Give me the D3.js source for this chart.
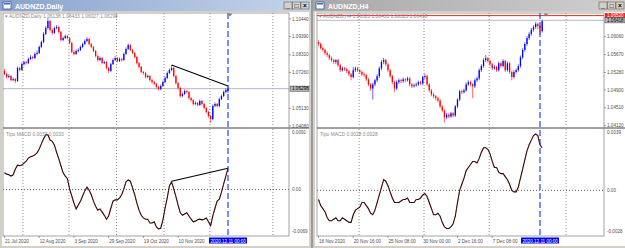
<!DOCTYPE html>
<html><head><meta charset="utf-8">
<script src="https://cdn.jsdelivr.net/npm/d3@7"></script>
<style>html,body{margin:0;padding:0;background:#9a9a9a;overflow:hidden}svg{display:block}</style>
</head><body>
<svg id="c" width="625" height="248"></svg>
<script>
// ---------------- DATA ----------------
const dailyOHLC = [
[1.0735,1.0748,1.0710,1.0717],[1.0717,1.0725,1.0690,1.0699],[1.0699,1.0716,1.0692,1.0705],[1.0705,1.0712,1.0672,1.0681],
[1.0681,1.0696,1.0674,1.0687],[1.0687,1.0694,1.0664,1.0675],[1.0675,1.0762,1.0670,1.0753],[1.0753,1.0760,1.0733,1.0741],
[1.0741,1.0785,1.0736,1.0776],[1.0776,1.0797,1.0768,1.0788],[1.0788,1.0795,1.0773,1.0782],[1.0782,1.0815,1.0777,1.0806],
[1.0806,1.0829,1.0800,1.0818],[1.0818,1.0826,1.0803,1.0812],[1.0812,1.0845,1.0806,1.0836],[1.0836,1.0856,1.0828,1.0842],
[1.0842,1.0887,1.0836,1.0878],[1.0878,1.0916,1.0870,1.0907],[1.0907,1.0966,1.0900,1.0955],[1.0955,1.1002,1.0948,1.0990],
[1.0990,1.1050,1.0982,1.1032],[1.1032,1.1040,1.0970,1.0979],[1.0979,1.0988,1.0950,1.0961],[1.0961,1.0999,1.0955,1.0990],
[1.0990,1.1008,1.0982,1.0996],[1.0996,1.1004,1.0958,1.0967],[1.0967,1.0974,1.0910,1.0919],[1.0919,1.0940,1.0912,1.0931],
[1.0931,1.0952,1.0925,1.0943],[1.0943,1.0950,1.0922,1.0931],[1.0931,1.0937,1.0893,1.0901],[1.0901,1.0908,1.0840,1.0848],
[1.0848,1.0856,1.0827,1.0836],[1.0836,1.0863,1.0830,1.0854],[1.0854,1.0870,1.0846,1.0860],[1.0860,1.0887,1.0853,1.0878],
[1.0878,1.0904,1.0871,1.0895],[1.0895,1.0922,1.0888,1.0913],[1.0913,1.0936,1.0906,1.0925],[1.0925,1.0931,1.0887,1.0895],
[1.0895,1.0902,1.0870,1.0878],[1.0878,1.0884,1.0846,1.0854],[1.0854,1.0860,1.0815,1.0824],[1.0824,1.0831,1.0791,1.0800],
[1.0800,1.0821,1.0794,1.0812],[1.0812,1.0818,1.0774,1.0782],[1.0782,1.0797,1.0776,1.0788],[1.0788,1.0794,1.0745,1.0753],
[1.0753,1.0760,1.0723,1.0735],[1.0735,1.0785,1.0729,1.0776],[1.0776,1.0809,1.0770,1.0800],[1.0800,1.0822,1.0794,1.0812],
[1.0812,1.0818,1.0786,1.0794],[1.0794,1.0815,1.0788,1.0806],[1.0806,1.0812,1.0791,1.0800],[1.0800,1.0845,1.0794,1.0836],
[1.0836,1.0875,1.0830,1.0866],[1.0866,1.0899,1.0860,1.0889],[1.0889,1.0895,1.0852,1.0860],[1.0860,1.0866,1.0834,1.0842],
[1.0842,1.0848,1.0810,1.0818],[1.0818,1.0824,1.0774,1.0782],[1.0782,1.0789,1.0750,1.0759],[1.0759,1.0765,1.0720,1.0729],
[1.0729,1.0736,1.0712,1.0723],[1.0723,1.0730,1.0690,1.0699],[1.0699,1.0714,1.0692,1.0705],[1.0705,1.0711,1.0672,1.0681],
[1.0681,1.0688,1.0660,1.0669],[1.0669,1.0676,1.0650,1.0658],[1.0658,1.0664,1.0630,1.0640],[1.0640,1.0647,1.0618,1.0628],
[1.0628,1.0655,1.0620,1.0646],[1.0646,1.0678,1.0640,1.0669],[1.0669,1.0702,1.0662,1.0693],[1.0693,1.0732,1.0686,1.0723],
[1.0723,1.0750,1.0716,1.0741],[1.0741,1.0770,1.0734,1.0753],[1.0753,1.0760,1.0696,1.0705],[1.0705,1.0712,1.0654,1.0663],
[1.0663,1.0670,1.0625,1.0634],[1.0634,1.0641,1.0576,1.0586],[1.0586,1.0607,1.0580,1.0598],[1.0598,1.0625,1.0592,1.0616],
[1.0616,1.0622,1.0602,1.0610],[1.0610,1.0616,1.0565,1.0574],[1.0574,1.0580,1.0553,1.0562],[1.0562,1.0568,1.0530,1.0539],
[1.0539,1.0554,1.0532,1.0545],[1.0545,1.0551,1.0524,1.0533],[1.0533,1.0566,1.0527,1.0557],[1.0557,1.0563,1.0530,1.0539],
[1.0539,1.0545,1.0506,1.0515],[1.0515,1.0521,1.0482,1.0491],[1.0491,1.0497,1.0458,1.0467],[1.0467,1.0473,1.0426,1.0449],
[1.0449,1.0536,1.0443,1.0527],[1.0527,1.0548,1.0520,1.0539],[1.0539,1.0545,1.0518,1.0527],[1.0527,1.0577,1.0520,1.0568],
[1.0568,1.0595,1.0562,1.0586],[1.0586,1.0619,1.0580,1.0610],[1.0610,1.0631,1.0603,1.0622],[1.0614,1.0643,1.0603,1.0630]
];
const dailyMacd = [
0.0026,0.0024,0.0023,0.0021,0.0023,0.0032,0.0038,0.0037,0.0038,0.0041,
0.0044,0.0049,0.0051,0.0052,0.0054,0.0057,0.0063,0.0071,0.0079,0.0085,
0.0085,0.0077,0.0075,0.0069,0.0058,0.0048,0.0037,0.0026,0.0021,0.0017,
0.0001,-0.0010,-0.0021,-0.0030,-0.0024,-0.0018,-0.0010,-0.0002,0.0004,-0.0001,
-0.0008,-0.0018,-0.0026,-0.0032,-0.0030,-0.0035,-0.0040,-0.0046,-0.0041,-0.0029,
-0.0018,-0.0016,-0.0016,-0.0013,-0.0008,0.0001,0.0012,0.0015,0.0013,0.0003,
-0.0008,-0.0021,-0.0032,-0.0040,-0.0044,-0.0046,-0.0046,-0.0052,-0.0052,-0.0050,
-0.0058,-0.0061,-0.0060,-0.0047,-0.0029,-0.0013,0.0006,0.0012,0.0001,-0.0011,
-0.0024,-0.0036,-0.0040,-0.0038,-0.0036,-0.0041,-0.0046,-0.0050,-0.0049,-0.0047,
-0.0046,-0.0047,-0.0046,-0.0044,-0.0050,-0.0056,-0.0041,-0.0029,-0.0018,-0.0015,
-0.0004,0.0009,0.0021,0.0033
];
const h4OHLC = [
[1.0594,1.0598,1.0586,1.0590],[1.0590,1.0593,1.0578,1.0581],[1.0581,1.0585,1.0574,1.0577],[1.0577,1.0580,1.0566,1.0570],
[1.0570,1.0574,1.0562,1.0566],[1.0566,1.0569,1.0555,1.0559],[1.0559,1.0563,1.0551,1.0555],[1.0555,1.0558,1.0547,1.0551],
[1.0551,1.0557,1.0546,1.0555],[1.0555,1.0558,1.0540,1.0544],[1.0544,1.0547,1.0529,1.0533],[1.0533,1.0541,1.0530,1.0537],
[1.0537,1.0540,1.0531,1.0535],[1.0535,1.0538,1.0527,1.0531],[1.0531,1.0534,1.0520,1.0524],[1.0524,1.0527,1.0511,1.0518],
[1.0518,1.0540,1.0515,1.0533],[1.0533,1.0541,1.0529,1.0537],[1.0537,1.0540,1.0529,1.0533],[1.0533,1.0536,1.0525,1.0529],
[1.0529,1.0532,1.0520,1.0524],[1.0524,1.0528,1.0518,1.0522],[1.0522,1.0525,1.0509,1.0513],[1.0513,1.0516,1.0498,1.0502],
[1.0502,1.0505,1.0488,1.0493],[1.0493,1.0506,1.0469,1.0502],[1.0502,1.0514,1.0498,1.0511],[1.0511,1.0524,1.0507,1.0520],
[1.0520,1.0541,1.0516,1.0537],[1.0537,1.0555,1.0533,1.0551],[1.0551,1.0560,1.0546,1.0555],[1.0555,1.0558,1.0542,1.0546],
[1.0546,1.0549,1.0529,1.0533],[1.0533,1.0536,1.0516,1.0520],[1.0520,1.0523,1.0502,1.0507],[1.0507,1.0510,1.0485,1.0493],
[1.0493,1.0511,1.0490,1.0507],[1.0507,1.0515,1.0503,1.0511],[1.0511,1.0514,1.0505,1.0509],[1.0509,1.0517,1.0505,1.0513],
[1.0513,1.0516,1.0507,1.0511],[1.0511,1.0519,1.0508,1.0515],[1.0515,1.0518,1.0498,1.0502],[1.0502,1.0505,1.0494,1.0498],
[1.0498,1.0504,1.0495,1.0500],[1.0500,1.0506,1.0497,1.0502],[1.0502,1.0510,1.0499,1.0507],[1.0507,1.0510,1.0500,1.0504],
[1.0504,1.0521,1.0501,1.0518],[1.0518,1.0525,1.0514,1.0520],[1.0520,1.0523,1.0498,1.0502],[1.0502,1.0505,1.0485,1.0489],
[1.0489,1.0492,1.0476,1.0480],[1.0480,1.0484,1.0472,1.0476],[1.0476,1.0479,1.0467,1.0472],[1.0472,1.0475,1.0463,1.0467],
[1.0467,1.0470,1.0450,1.0454],[1.0454,1.0457,1.0441,1.0445],[1.0445,1.0448,1.0419,1.0430],[1.0430,1.0440,1.0426,1.0436],
[1.0436,1.0439,1.0428,1.0432],[1.0432,1.0442,1.0429,1.0439],[1.0439,1.0442,1.0430,1.0434],[1.0434,1.0457,1.0431,1.0454],
[1.0454,1.0472,1.0450,1.0469],[1.0469,1.0490,1.0465,1.0487],[1.0487,1.0491,1.0481,1.0485],[1.0485,1.0493,1.0482,1.0489],
[1.0489,1.0506,1.0486,1.0502],[1.0502,1.0511,1.0499,1.0507],[1.0507,1.0510,1.0498,1.0502],[1.0502,1.0505,1.0472,1.0498],
[1.0498,1.0515,1.0494,1.0511],[1.0511,1.0519,1.0507,1.0515],[1.0515,1.0537,1.0511,1.0533],[1.0533,1.0546,1.0529,1.0542],
[1.0542,1.0559,1.0538,1.0555],[1.0555,1.0566,1.0551,1.0559],[1.0559,1.0562,1.0549,1.0553],[1.0553,1.0556,1.0542,1.0546],
[1.0546,1.0549,1.0533,1.0537],[1.0537,1.0544,1.0534,1.0540],[1.0540,1.0543,1.0529,1.0533],[1.0533,1.0552,1.0530,1.0548],
[1.0548,1.0551,1.0538,1.0542],[1.0542,1.0557,1.0539,1.0553],[1.0553,1.0556,1.0529,1.0533],[1.0533,1.0552,1.0530,1.0548],
[1.0548,1.0551,1.0525,1.0529],[1.0529,1.0532,1.0511,1.0518],[1.0518,1.0533,1.0515,1.0529],[1.0529,1.0537,1.0526,1.0533],
[1.0533,1.0546,1.0530,1.0542],[1.0542,1.0565,1.0538,1.0561],[1.0561,1.0581,1.0557,1.0577],[1.0577,1.0594,1.0573,1.0590],
[1.0590,1.0607,1.0586,1.0603],[1.0603,1.0616,1.0599,1.0612],[1.0612,1.0625,1.0608,1.0621],[1.0621,1.0631,1.0617,1.0627],
[1.0627,1.0638,1.0623,1.0634],[1.0634,1.0637,1.0622,1.0629],[1.0629,1.0632,1.0610,1.0618],[1.0618,1.0643,1.0615,1.0640]
];
const h4Macd = [
-0.0006,-0.0010,-0.0012,-0.0014,-0.0018,-0.0020,-0.0020,-0.0019,-0.0018,-0.0020,
-0.0020,-0.0018,-0.0019,-0.0020,-0.0021,-0.0021,-0.0016,-0.0013,-0.0012,-0.0011,
-0.0008,-0.0008,-0.0010,-0.0012,-0.0015,-0.0016,-0.0013,-0.0008,-0.0003,0.0002,
0.0007,0.0006,0.0003,-0.0001,-0.0005,-0.0008,-0.0008,-0.0008,-0.0007,-0.0006,
-0.0006,-0.0005,-0.0008,-0.0008,-0.0008,-0.0006,-0.0006,-0.0005,-0.0003,-0.0002,
-0.0004,-0.0008,-0.0012,-0.0016,-0.0016,-0.0015,-0.0017,-0.0021,-0.0024,-0.0025,
-0.0025,-0.0024,-0.0022,-0.0017,-0.0008,0.0000,0.0004,0.0008,0.0013,0.0015,
0.0017,0.0019,0.0019,0.0018,0.0021,0.0025,0.0028,0.0028,0.0027,0.0024,
0.0019,0.0015,0.0015,0.0012,0.0011,0.0011,0.0009,0.0007,0.0004,0.0000,
-0.0001,-0.0001,0.0002,0.0008,0.0014,0.0020,0.0026,0.0030,0.0033,0.0036,
0.0037,0.0036,0.0030,0.0028
];
const dailyDateLabels = ["21 Jul 2020","12 Aug 2020","3 Sep 2020","29 Sep 2020","19 Oct 2020","10 Nov 2020"];
const dailyDateBars = [0,16,32,48,64,80];
const h4DateLabels = ["18 Nov 2020","20 Nov 16:00","25 Nov 08:00","30 Nov 00:00","2 Dec 16:00","7 Dec 08:00"];
const h4DateBars = [0,16,32,48,64,80];
const dailyPriceTicks = [1.10440,1.09390,1.08310,1.07260,1.05130,1.04080];
const h4PriceTicks = [1.06060,1.05670,1.05280,1.04900,1.04510,1.04120];
const dailyMacdTicks = [0.0091,0,-0.0069];
const h4MacdTicks = [0.0039,0,-0.0028];
const dailyTrendPrice = [[77,1.0770],[103,1.0646]];
const dailyTrendMacd = [[77,0.0013],[103,0.0033]];
const dailyBid = 1.06298, h4Bid = 1.06418, h4RedLevel = 1.06520;
const cursorLabel = "2020.12.11 00:00";

// ---------------- DRAW ----------------
const svg = d3.select("#c");
const defs = svg.append("defs");
const FONT = "'Liberation Sans', Arial, sans-serif";
const TOP = 13, SEP = 127, MTOP = 129, BOT = 236;

const gA = defs.append("linearGradient").attr("id","tA");
gA.append("stop").attr("offset","0").attr("stop-color","#8aa3cc");
gA.append("stop").attr("offset","1").attr("stop-color","#c6d5ec");
const gI = defs.append("linearGradient").attr("id","tI");
gI.append("stop").attr("offset","0").attr("stop-color","#a8a8a8");
gI.append("stop").attr("offset","1").attr("stop-color","#d0d0d0");

function drawPanel(p, id) {
  const g = svg.append("g");
  const x = d3.scaleLinear().domain(p.xDomain).range(p.xRange);
  const yP = d3.scaleLinear().domain(p.priceDomain).range(p.priceRange);
  const yM = d3.scaleLinear().domain(p.macdDomain).range(p.macdRange);
  g.append("rect").attr("x",p.wx0).attr("y",0).attr("width",p.wx1-p.wx0).attr("height",248).attr("fill","#d4d0c8");
  g.append("rect").attr("x",p.wx0).attr("y",0).attr("width",p.wx1-p.wx0).attr("height",11).attr("fill",p.active?"url(#tA)":"url(#tI)");
  g.append("rect").attr("x",p.wx0+3).attr("y",2).attr("width",8).attr("height",7).attr("fill","#fff").attr("stroke","#3a5a9a").attr("stroke-width",0.8);
  g.append("rect").attr("x",p.wx0+4).attr("y",3).attr("width",6).attr("height",1.5).attr("fill","#3a6ac0");
  g.append("text").attr("x",p.wx0+15).attr("y",8.5).attr("fill","#fff").attr("font-family",FONT)
    .attr("font-size",7).attr("font-weight","bold").text(p.title);
  ["_","□","×"].forEach((s,i)=>{
    const bx = p.btnX + i*8.5;
    g.append("rect").attr("x",bx).attr("y",2).attr("width",8).attr("height",7).attr("fill","#d4d0c8").attr("stroke","#606060").attr("stroke-width",0.6);
    g.append("text").attr("x",bx+4).attr("y",8).attr("text-anchor","middle").attr("font-family",FONT).attr("font-size",6.5)
      .attr("font-weight","bold").attr("fill","#000").text(s);
  });
  g.append("rect").attr("x",p.wx0+2).attr("y",12).attr("width",p.wx1-p.wx0-4).attr("height",234).attr("fill","#fff");
  defs.append("clipPath").attr("id","cu"+id).append("rect").attr("x",p.plotL).attr("y",TOP).attr("width",p.plotR-p.plotL).attr("height",SEP-TOP);
  defs.append("clipPath").attr("id","cm"+id).append("rect").attr("x",p.plotL).attr("y",MTOP).attr("width",p.plotR-p.plotL).attr("height",BOT-MTOP);

  p.gridBars.forEach(b=>{
    [[TOP,SEP],[MTOP,BOT]].forEach(([a,c])=>{
      g.append("line").attr("x1",x(b)).attr("x2",x(b)).attr("y1",a).attr("y2",c)
        .attr("stroke","#707070").attr("stroke-width",0.8).attr("stroke-dasharray","1,2");
    });
  });
  g.append("line").attr("x1",p.plotL).attr("x2",p.plotR).attr("y1",yM(0)).attr("y2",yM(0))
    .attr("stroke","#303030").attr("stroke-width",0.8).attr("stroke-dasharray","1,2");

  if (p.redLevel) {
    g.append("line").attr("x1",p.plotL).attr("x2",p.plotR).attr("y1",yP(p.redLevel)).attr("y2",yP(p.redLevel)).attr("stroke","#ff2020").attr("stroke-width",1);
  }
  g.append("line").attr("x1",p.plotL).attr("x2",p.plotR).attr("y1",yP(p.bid)).attr("y2",yP(p.bid)).attr("stroke","#a6b0c0").attr("stroke-width",0.9);

  const cg = g.append("g").attr("clip-path",`url(#cu${id})`);
  p.ohlc.forEach((d,i)=>{
    const [o,h,l,c] = d;
    const col = c>=o ? "#0000ff" : "#ff0000";
    const cx = x(i);
    cg.append("line").attr("x1",cx).attr("x2",cx).attr("y1",yP(h)).attr("y2",yP(l)).attr("stroke",col).attr("stroke-width",0.6);
    const y1 = Math.min(yP(o),yP(c)), y2 = Math.max(yP(o),yP(c));
    cg.append("rect").attr("x",cx-0.65).attr("y",y1).attr("width",1.3).attr("height",Math.max(0.8,y2-y1)).attr("fill",col);
  });
  if (p.trendPrice) {
    cg.append("line").attr("x1",x(p.trendPrice[0][0])).attr("y1",yP(p.trendPrice[0][1]))
      .attr("x2",x(p.trendPrice[1][0])).attr("y2",yP(p.trendPrice[1][1])).attr("stroke","#000").attr("stroke-width",1.1);
  }
  const mg = g.append("g").attr("clip-path",`url(#cm${id})`);
  const line = d3.line().x((d,i)=>x(i)).y(d=>yM(d));
  mg.append("path").attr("d",line(p.macd)).attr("fill","none").attr("stroke","#1a0000").attr("stroke-width",1.1);
  mg.append("path").attr("d",line(p.macd)).attr("fill","none").attr("stroke","#d02020").attr("stroke-width",0.6).attr("stroke-dasharray","1,1.6");
  if (p.trendMacd) {
    mg.append("line").attr("x1",x(p.trendMacd[0][0])).attr("y1",yM(p.trendMacd[0][1]))
      .attr("x2",x(p.trendMacd[1][0])).attr("y2",yM(p.trendMacd[1][1])).attr("stroke","#000").attr("stroke-width",1.1);
  }
  g.append("line").attr("x1",x(p.cursorBar)).attr("x2",x(p.cursorBar)).attr("y1",TOP).attr("y2",BOT)
    .attr("stroke","#1030ff").attr("stroke-width",1.1).attr("stroke-dasharray","6,3");
  const sx = p.shiftX;
  g.append("path").attr("d",`M${sx-2.5},${TOP+0.5}L${sx+2.5},${TOP+0.5}L${sx},${TOP+3.5}Z`).attr("fill","#808080");

  g.append("rect").attr("x",p.plotL).attr("y",SEP).attr("width",p.wx1-2-p.plotL).attr("height",2).attr("fill","#a0a0a0");
  g.append("rect").attr("x",p.plotL).attr("y",TOP).attr("width",p.plotR-p.plotL).attr("height",BOT-TOP)
    .attr("fill","none").attr("stroke","#8c8c8c").attr("stroke-width",0.8);

  g.append("text").attr("x",p.plotL+2).attr("y",TOP+5).attr("font-family",FONT).attr("font-size",4.9).attr("fill","#8a8a8a").text("▾ "+p.info);
  g.append("text").attr("x",p.plotL+3).attr("y",MTOP+6.5).attr("font-family",FONT).attr("font-size",4.9).attr("fill","#8a8a8a").text(p.macdInfo);

  const ax = p.plotR;
  p.priceTicks.forEach(v=>{
    const yy = yP(v);
    g.append("line").attr("x1",ax).attr("x2",ax+2).attr("y1",yy).attr("y2",yy).attr("stroke","#606060").attr("stroke-width",0.6);
    g.append("text").attr("x",ax+3).attr("y",yy+1.6).attr("font-family",FONT).attr("font-size",4.6).attr("fill","#505050").text(d3.format(".5f")(v));
  });
  p.macdTicks.forEach(v=>{
    let yy = yM(v);
    yy = Math.max(MTOP+3, Math.min(BOT-5, yy));
    g.append("text").attr("x",ax+3).attr("y",yy+1.6).attr("font-family",FONT).attr("font-size",4.6).attr("fill","#505050")
      .text(v===0?"0.00":d3.format(".4f")(v).replace("−","-"));
  });
  const by = yP(p.bid);
  if (p.redLevel) {
    const ry = yP(p.redLevel);
    g.append("rect").attr("x",ax+1).attr("y",ry-2.6).attr("width",p.wx1-ax-3).attr("height",5.2).attr("fill","#ff2020");
    g.append("text").attr("x",ax+3).attr("y",ry+1.6).attr("font-family",FONT).attr("font-size",4.6).attr("fill","#fff").text(d3.format(".5f")(p.redLevel));
  }
  g.append("rect").attr("x",ax+1).attr("y",by-2.6).attr("width",p.wx1-ax-3).attr("height",5.2).attr("fill","#b8b8b8").attr("stroke","#404040").attr("stroke-width",0.5);
  g.append("text").attr("x",ax+3).attr("y",by+1.6).attr("font-family",FONT).attr("font-size",4.6).attr("fill","#000").text(d3.format(".5f")(p.bid));

  p.dateBars.forEach((b,i)=>{
    const xx = x(b);
    g.append("line").attr("x1",xx).attr("x2",xx).attr("y1",BOT).attr("y2",BOT+2).attr("stroke","#606060").attr("stroke-width",0.6);
    g.append("text").attr("x",xx+0.5).attr("y",BOT+6.5).attr("font-family",FONT).attr("font-size",4.6).attr("fill","#505050").text(p.dateLabels[i]);
  });
  const cx = x(p.cursorBar);
  defs.append("clipPath").attr("id","cl"+id).append("rect").attr("x",cx-19).attr("y",BOT+1).attr("width",38).attr("height",7);
  g.append("rect").attr("x",cx-19).attr("y",BOT+1.5).attr("width",38).attr("height",6).attr("fill","#0000ee");
  g.append("text").attr("clip-path",`url(#cl${id})`).attr("x",cx-17.5).attr("y",BOT+6.5).attr("font-family",FONT).attr("font-size",4.6).attr("fill","#fff").text(cursorLabel);
}

drawPanel({
  wx0:0, wx1:311, plotL:3, plotR:289, btnX:284, title:"AUDNZD,Daily", active:true,
  xDomain:[0,103], xRange:[4.5,228],
  priceDomain:[1.0408,1.1044], priceRange:[126,19],
  macdDomain:[-0.0069,0.0091], macdRange:[234,131],
  ohlc:dailyOHLC, macd:dailyMacd, gridBars:[8.5,29.7,51.6,73.5,94.7,123.7],
  trendPrice:dailyTrendPrice, trendMacd:dailyTrendMacd, cursorBar:103, shiftX:230,
  bid:dailyBid, priceTicks:dailyPriceTicks, macdTicks:dailyMacdTicks,
  dateBars:dailyDateBars, dateLabels:dailyDateLabels,
  info:"AUDNZD,Daily 1.06138 1.06433 1.06027 1.06298", macdInfo:"Tipu MACD 0.0033 0.0033"
}, "a");
drawPanel({
  wx0:313, wx1:627, plotL:317, plotR:604, btnX:599, title:"AUDNZD,H4", active:false,
  xDomain:[0,102], xRange:[318.5,540],
  priceDomain:[1.0412,1.0606], priceRange:[125.7,36.7],
  macdDomain:[-0.0028,0.0039], macdRange:[233,131],
  ohlc:h4OHLC, macd:h4Macd, gridBars:[18.7,48.6,78.6,114],
  trendPrice:null, trendMacd:null, cursorBar:102, shiftX:546,
  bid:h4Bid, redLevel:h4RedLevel, priceTicks:h4PriceTicks, macdTicks:h4MacdTicks,
  dateBars:h4DateBars, dateLabels:h4DateLabels,
  info:"AUDNZD,H4 1.06323 1.06433 1.06323 1.06418", macdInfo:"Tipu MACD 0.0028 0.0028"
}, "b");
</script>
</body></html>
